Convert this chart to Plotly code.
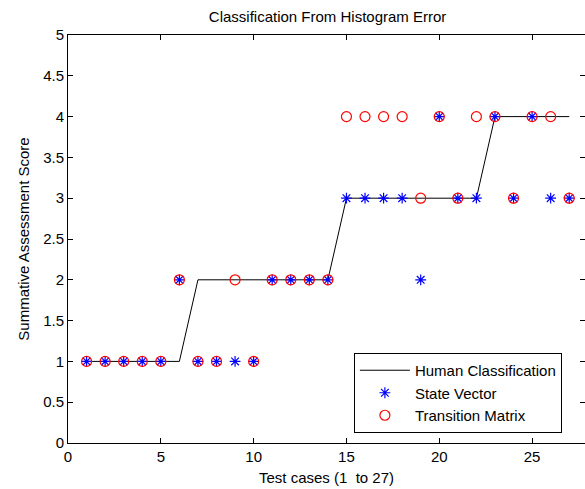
import plotly.graph_objects as go

test_cases = list(range(1, 28))
human = [1, 1, 1, 1, 1, 1, 2, 2, 2, 2, 2, 2, 2, 2, 3, 3, 3, 3, 3, 3, 3, 3, 4, 4, 4, 4, 4]
state_vector = [1, 1, 1, 1, 1, 2, 1, 1, 1, 1, 2, 2, 2, 2, 3, 3, 3, 3, 2, 4, 3, 3, 4, 3, 4, 3, 3]
transition_matrix = [1, 1, 1, 1, 1, 2, 1, 1, 2, 1, 2, 2, 2, 2, 4, 4, 4, 4, 3, 4, 3, 4, 4, 3, 4, 4, 3]
y_ticks = [0, 0.5, 1, 1.5, 2, 2.5, 3, 3.5, 4, 4.5, 5]
y_ticklabels = ["0", "0.5", "1", "1.5", "2", "2.5", "3", "3.5", "4", "4.5", "5"]
x_ticks = [0, 5, 10, 15, 20, 25]

FONT = "Liberation Sans, Arial, sans-serif"
FS = 15

fig = go.Figure()
fig.add_trace(go.Scatter(x=test_cases, y=human, mode="lines", name="Human Classification",
                         line=dict(color="black", width=1)))
fig.add_trace(go.Scatter(x=test_cases, y=state_vector, mode="markers", name="State Vector",
                         marker=dict(symbol="asterisk-open", size=9, color="blue",
                                     line=dict(color="blue", width=1.2))))
fig.add_trace(go.Scatter(x=test_cases, y=transition_matrix, mode="markers", name="Transition Matrix",
                         marker=dict(symbol="circle-open", size=10, color="red",
                                     line=dict(color="red", width=1.2))))
# invisible trace to drive the right-hand tick-only axis
fig.add_trace(go.Scatter(x=[0], y=[0], yaxis="y2", mode="markers", showlegend=False,
                         marker=dict(opacity=0), hoverinfo="skip"))

fig.update_layout(
    width=585, height=489,
    margin=dict(l=68, r=0, t=35, b=46),
    paper_bgcolor="white", plot_bgcolor="white",
    font=dict(family=FONT, size=FS, color="black"),
    title=dict(text="Classification From Histogram Error", x=0.56, xanchor="center",
               y=0.965, yanchor="middle", font=dict(size=FS, family=FONT, color="black")),
    xaxis=dict(range=[0, 27.85], tickvals=x_ticks, ticks="inside", ticklen=5,
               tickcolor="black", showline=True, linecolor="black", linewidth=1,
               mirror="ticks", showgrid=False, zeroline=False, automargin=False,
               tickfont=dict(size=FS, family=FONT),
               title=dict(text="Test cases (1\u00a0 to 27)", standoff=8,
                          font=dict(size=FS, family=FONT))),
    yaxis=dict(range=[0, 5], tickvals=y_ticks, ticktext=y_ticklabels, ticks="inside",
               ticklen=5, tickcolor="black", showline=True, linecolor="black", linewidth=1,
               showgrid=False, zeroline=False, automargin=False,
               tickfont=dict(size=FS, family=FONT),
               title=dict(text="Summative Assessment Score", standoff=9,
                          font=dict(size=FS, family=FONT))),
    yaxis2=dict(range=[0, 5], tickvals=y_ticks, ticks="inside", ticklen=5, tickcolor="black",
                overlaying="y", side="right", showticklabels=False, showline=False,
                showgrid=False, zeroline=False, automargin=False),
    legend=dict(x=0.553, y=0.2206, xanchor="left", yanchor="top", bgcolor="white",
                bordercolor="black", borderwidth=1, font=dict(size=FS, family=FONT),
                tracegroupgap=0, itemwidth=50, entrywidth=150, entrywidthmode="pixels"),
    showlegend=True,
)

fig.write_html("out.html", config={"displayModeBar": False},
               post_script="document.body.style.margin='0';")
